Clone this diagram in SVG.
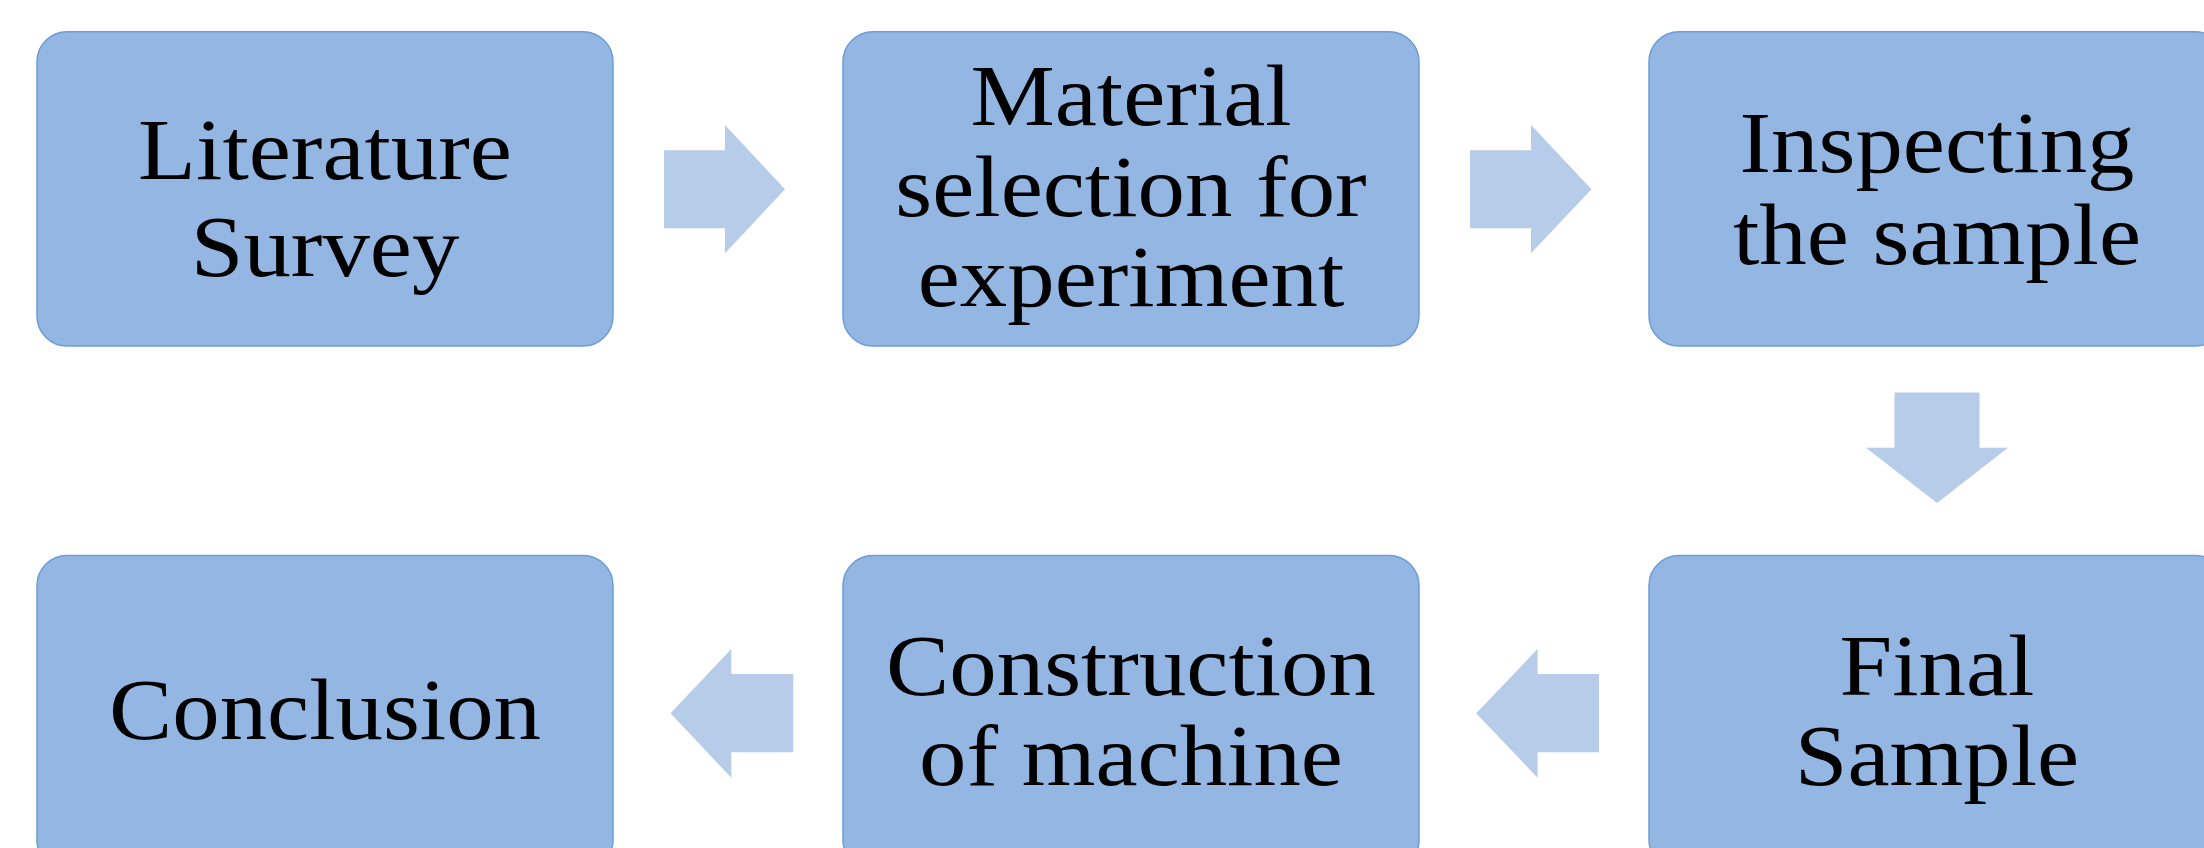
<svg xmlns="http://www.w3.org/2000/svg" width="2204" height="848" viewBox="0 0 2204 848">
<style>
.box{fill:#93B7E2;stroke:#6C9DD6;stroke-width:1.5}
.arr{fill:#B7CCE8;stroke:none}
.lbl{font-family:"Liberation Serif","Times New Roman",serif;font-size:87px;fill:#000;text-anchor:middle}
</style>
<rect x="0" y="0" width="2204" height="848" fill="#FFFFFF"/>
<g id="connectors">
<polygon class="arr" points="664,150.3 725,150.3 725,125 785,189.3 725,253.3 725,228.3 664,228.3"/>
<polygon class="arr" points="1470,150.3 1531,150.3 1531,125 1591.5,189.3 1531,253.3 1531,228.3 1470,228.3"/>
<polygon class="arr" points="1894.5,392.6 1979.5,392.6 1979.5,447.8 2008,447.8 1937,503 1866,447.8 1894.5,447.8"/>
<polygon class="arr" points="1599,674 1537.6,674 1537.6,649 1476.2,713.3 1537.6,777.7 1537.6,752.3 1599,752.3"/>
<polygon class="arr" points="793.3,674 731.3,674 731.3,649 670.5,713.3 731.3,777.7 731.3,752.3 793.3,752.3"/>
</g>
<g id="node-literature">
<rect class="box" x="37" y="31.7" width="576" height="314.3" rx="30" ry="30"/>
<text class="lbl" transform="translate(325 0) scale(1.09 1)"><tspan x="0" y="179.5">Literature</tspan><tspan x="0" y="276">Survey</tspan></text>
</g>
<g id="node-material">
<rect class="box" x="843" y="31.7" width="576" height="314.3" rx="30" ry="30"/>
<text class="lbl" transform="translate(1131 0) scale(1.09 1)"><tspan x="0" y="125">Material</tspan><tspan x="0" y="216">selection for</tspan><tspan x="0" y="306.5">experiment</tspan></text>
</g>
<g id="node-inspecting">
<rect class="box" x="1649" y="31.7" width="576" height="314.3" rx="30" ry="30"/>
<text class="lbl" transform="translate(1937 0) scale(1.09 1)"><tspan x="0" y="172">Inspecting</tspan><tspan x="0" y="264">the sample</tspan></text>
</g>
<g id="node-final">
<rect class="box" x="1649" y="555.5" width="576" height="314.3" rx="30" ry="30"/>
<text class="lbl" transform="translate(1937 0) scale(1.09 1)"><tspan x="0" y="695">Final</tspan><tspan x="0" y="785">Sample</tspan></text>
</g>
<g id="node-construction">
<rect class="box" x="843" y="555.5" width="576" height="314.3" rx="30" ry="30"/>
<text class="lbl" transform="translate(1131 0) scale(1.09 1)"><tspan x="0" y="695">Construction</tspan><tspan x="0" y="785">of machine</tspan></text>
</g>
<g id="node-conclusion">
<rect class="box" x="37" y="555.5" width="576" height="314.3" rx="30" ry="30"/>
<text class="lbl" transform="translate(325 0) scale(1.09 1)"><tspan x="0" y="739">Conclusion</tspan></text>
</g>
</svg>
